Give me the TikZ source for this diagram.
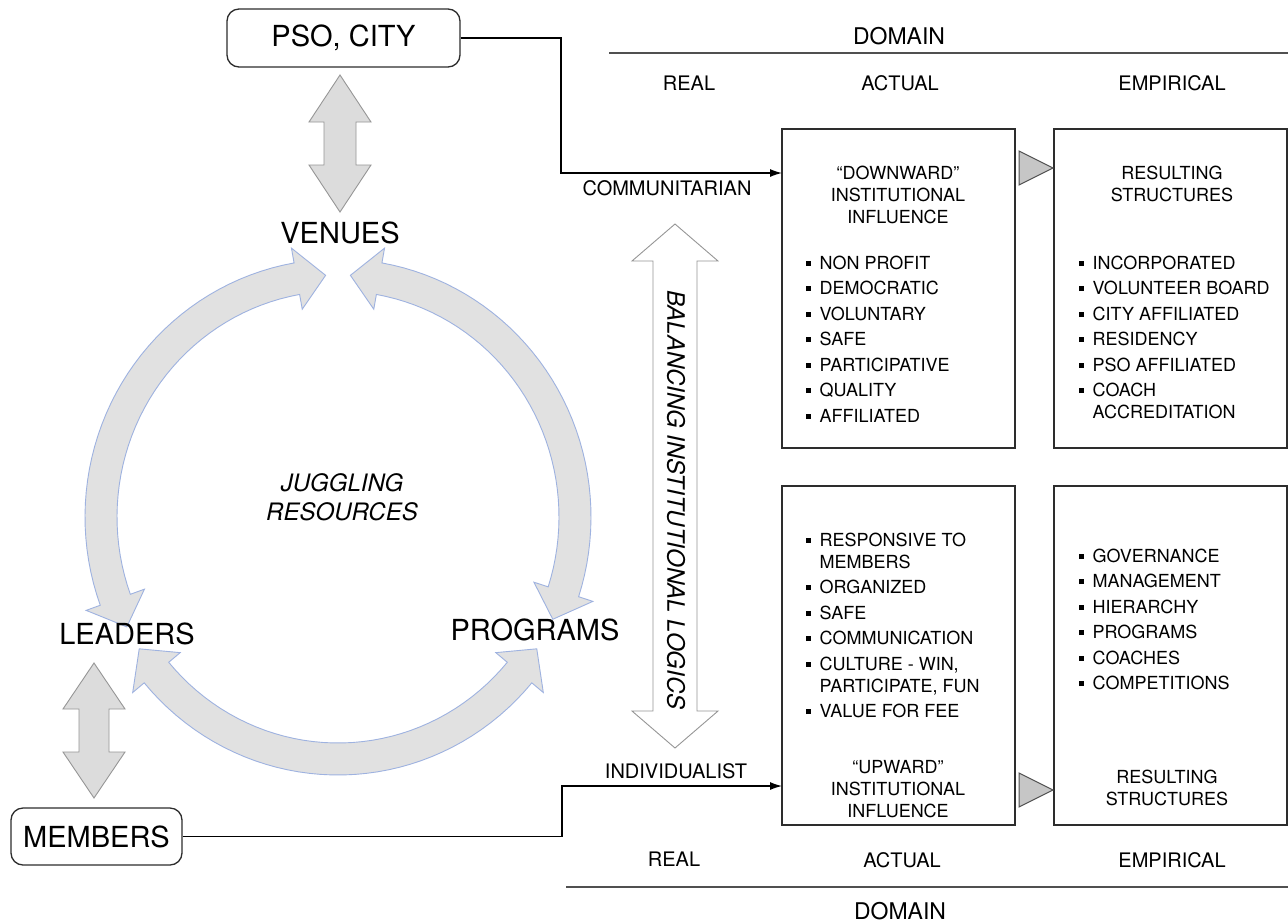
\documentclass[tikz,border=0pt]{standalone}
\usepackage{fontspec}
\setmainfont{TeX Gyre Heros}
\usetikzlibrary{arrows.meta}
\definecolor{ringfill}{RGB}{225,225,225}
\definecolor{ringline}{RGB}{158,178,224}
\definecolor{blockfill}{RGB}{220,220,220}
\definecolor{blockline}{RGB}{150,150,150}
\definecolor{wedgefill}{RGB}{198,198,198}
\definecolor{inkgray}{RGB}{45,45,45}
\definecolor{rulegray}{RGB}{80,80,80}

\newcommand{\bul}{\makebox[13.5pt][l]{\rule[3.5pt]{5pt}{5pt}}}
\newcommand{\hang}{\hspace*{13.5pt}}
\newcommand{\ringarrow}[2]{%
  \draw[ringarrow] plot[domain=#1:#2, samples=40] ({338+253*cos(\x)}, {517+258*sin(\x)})
    -- ({338+268*cos(#2)}, {517+273*sin(#2)})
    -- ({338+237*cos(#2+7)}, {517+242*sin(#2+7)})
    -- ({338+206*cos(#2)}, {517+211*sin(#2)})
    -- plot[domain=#2:#1, samples=40] ({338+221*cos(\x)}, {517+226*sin(\x)})
    -- ({338+206*cos(#1)}, {517+211*sin(#1)})
    -- ({338+237*cos(#1-7)}, {517+242*sin(#1-7)})
    -- ({338+268*cos(#1)}, {517+273*sin(#1)}) -- cycle;}
\newcommand{\vblock}[7]{%
  \draw[#1] (#2,#3) -- ({#2+#6},{#3+#7}) -- ({#2+#5},{#3+#7}) -- ({#2+#5},{#4-#7})
    -- ({#2+#6},{#4-#7}) -- (#2,#4) -- ({#2-#6},{#4-#7}) -- ({#2-#5},{#4-#7})
    -- ({#2-#5},{#3+#7}) -- ({#2-#6},{#3+#7}) -- cycle;}

\begin{document}
\begin{tikzpicture}[x=1pt, y=-1pt,
    big/.style={inner sep=0pt, font=\fontsize{29}{34}\selectfont},
    tag/.style={draw=inkgray, line width=1.3pt, rounded corners=12pt, big},
    col/.style={inner sep=0pt, font=\fontsize{20}{24}\selectfont},
    dom/.style={inner sep=0pt, font=\fontsize{23}{27}\selectfont},
    flow/.style={inner sep=0pt, font=\fontsize{20}{24}\selectfont},
    boxtxt/.style={inner sep=0pt, font=\fontsize{18}{22}\selectfont},
    panel/.style={draw=inkgray, line width=1.3pt, minimum width=233pt, inner sep=0pt},
    ringarrow/.style={fill=ringfill, draw=ringline, line width=0.9pt},
    pairarrow/.style={fill=blockfill, draw=blockline, line width=0.9pt},
    balance/.style={fill=white, draw=blockline, line width=0.9pt},
    wedge/.style={fill=wedgefill, draw=rulegray, line width=1pt},
    link/.style={draw=black, line width=1.2pt, -{Latex[length=12pt,width=8pt]}},
    domrule/.style={draw=rulegray, line width=1.8pt}]
    \useasboundingbox[fill=white] (0,0) rectangle (1288,922);

    \ringarrow{160}{260}
    \ringarrow{-80}{18}
    \ringarrow{40}{140}
    \vblock{pairarrow}{340}{75}{212}{16}{31}{47}
    \vblock{pairarrow}{94}{663}{798}{15}{31}{46}
    \vblock{balance}{675}{224}{748}{22}{43}{37}

    \node[tag, minimum width=233pt, minimum height=58pt] (pso) at (343.5,38) {PSO, CITY};
    \node[tag, minimum width=171pt, minimum height=57pt] (members) at (96.5,836.5) {MEMBERS};
    \node[big] (venues) at (340,233) {VENUES};
    \node[big] (leaders) at (127,634) {LEADERS};
    \node[big] (programs) at (535,630) {PROGRAMS};
    \node[inner sep=0pt, align=center, font=\fontsize{24}{29}\selectfont\itshape] (juggling) at (342,497) {JUGGLING\\RESOURCES};
    \node[inner sep=0pt, rotate=-90, font=\fontsize{24}{28}\selectfont\itshape] (balancing) at (676,500) {BALANCING INSTITUTIONAL LOGICS};

    \node[dom] (domaintop) at (899,36) {DOMAIN};
    \draw[domrule] (609,53) -- (1288,53);
    \node[col] (realtop) at (689,83) {REAL};
    \node[col] (actualtop) at (900,83) {ACTUAL};
    \node[col] (empiricaltop) at (1172,83) {EMPIRICAL};
    \node[col] (realbot) at (674,859) {REAL};
    \node[col] (actualbot) at (902,860) {ACTUAL};
    \node[col] (empiricalbot) at (1172,860) {EMPIRICAL};
    \draw[domrule] (566,887) -- (1288,887);
    \node[dom] (domainbot) at (900,911) {DOMAIN};

    \node[panel, minimum height=319pt] (downbox) at (898.5,288.5) {};
    \node[panel, minimum height=319pt] (resbox) at (1170.5,288.5) {};
    \node[panel, minimum height=339pt] (upbox) at (898.5,655.5) {};
    \node[panel, minimum height=339pt] (resbox2) at (1170.5,655.5) {};
    \draw[wedge] (1019,151) -- (1053,168) -- (1019,185) -- cycle;
    \draw[wedge] (1019,773) -- (1053,790) -- (1019,807) -- cycle;

    \node[boxtxt, align=center, anchor=north] (downhead) at (898,165.5) {“DOWNWARD”\\INSTITUTIONAL\\INFLUENCE};
    \node[boxtxt, align=left, anchor=north west] (downlist) at (806,255.5) {\bul NON PROFIT\\[3.5pt]\bul DEMOCRATIC\\[3.5pt]\bul VOLUNTARY\\[3.5pt]\bul SAFE\\[3.5pt]\bul PARTICIPATIVE\\[3.5pt]\bul QUALITY\\[3.5pt]\bul AFFILIATED};
    \node[boxtxt, align=center, anchor=north] (reshead) at (1172,165.5) {RESULTING\\STRUCTURES};
    \node[boxtxt, align=left, anchor=north west] (reslist) at (1079,255.5) {\bul INCORPORATED\\[3.5pt]\bul VOLUNTEER BOARD\\[3.5pt]\bul CITY AFFILIATED\\[3.5pt]\bul RESIDENCY\\[3.5pt]\bul PSO AFFILIATED\\[3.5pt]\bul COACH\\\hang ACCREDITATION};
    \node[boxtxt, align=left, anchor=north west] (uplist) at (806,532.5) {\bul RESPONSIVE TO\\\hang MEMBERS\\[3.5pt]\bul ORGANIZED\\[3.5pt]\bul SAFE\\[3.5pt]\bul COMMUNICATION\\[3.5pt]\bul CULTURE - WIN,\\\hang PARTICIPATE, FUN\\[3.5pt]\bul VALUE FOR FEE};
    \node[boxtxt, align=center, anchor=north] (uphead) at (898,760.5) {“UPWARD”\\INSTITUTIONAL\\INFLUENCE};
    \node[boxtxt, align=left, anchor=north west] (reslist2) at (1079,548.5) {\bul GOVERNANCE\\[3.5pt]\bul MANAGEMENT\\[3.5pt]\bul HIERARCHY\\[3.5pt]\bul PROGRAMS\\[3.5pt]\bul COACHES\\[3.5pt]\bul COMPETITIONS};
    \node[boxtxt, align=center, anchor=north] (reshead2) at (1167,769.5) {RESULTING\\STRUCTURES};

    \node[flow] (communitarian) at (667,188) {COMMUNITARIAN};
    \node[flow] (individualist) at (676,771) {INDIVIDUALIST};
    \coordinate (downin) at (782,173);
    \coordinate (upin) at (782,786);
    \draw[link] (pso.east) -- (561,38) |- (downin);
    \draw[link] (members.east) -| (562,786) -- (upin);
\end{tikzpicture}
\end{document}
